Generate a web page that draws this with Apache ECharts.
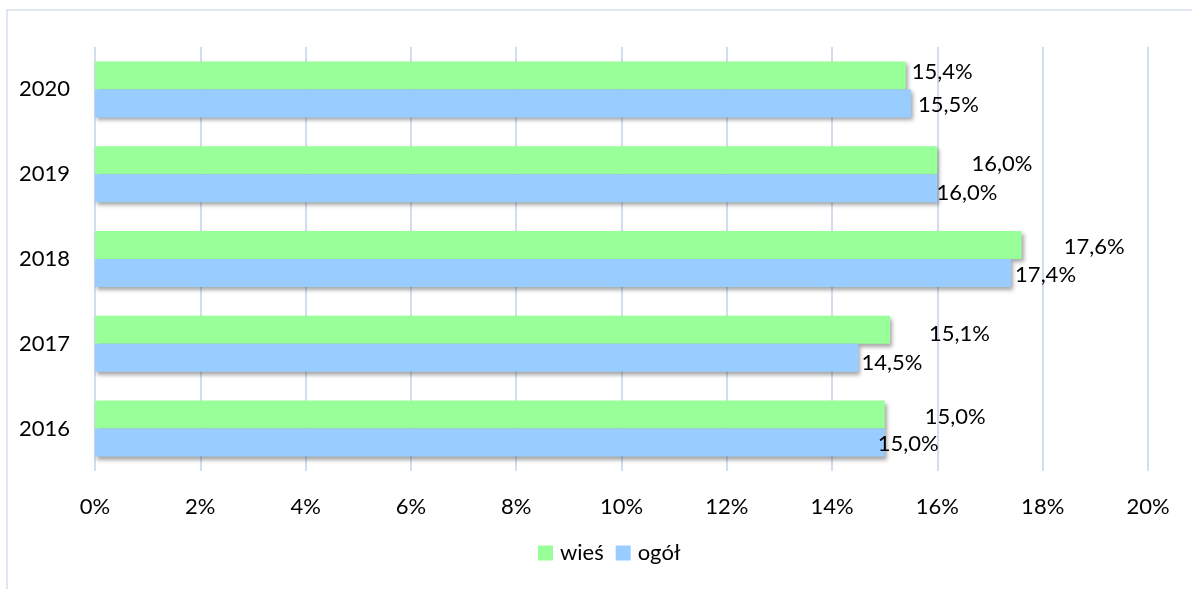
<!DOCTYPE html>
<html lang="pl">
<head>
    <meta charset="utf-8" />
    <script src="https://cdn.jsdelivr.net/npm/echarts@6/dist/echarts.min.js"></script>
    <style>
        html, body { margin: 0; padding: 0; background: #fff; }
        #view1 { width: 1192px; height: 589px; }
    </style>
</head>
<body>

<div id="view1"></div>

<script>
    var years = ["2016", "2017", "2018", "2019", "2020"];
    var wies = [15.0, 15.1, 17.6, 16.0, 15.4];
    var ogol = [15.0, 14.5, 17.4, 16.0, 15.5];
    var xTicks = [0, 2, 4, 6, 8, 10, 12, 14, 16, 18, 20];

    // label shifts as placed by hand in the source chart
    var wiesLabelShift = [[37, 2], [36, 4], [39, 2], [31, 4], [3, -3]];
    var ogolLabelShift = [[-10, 1], [0, 5], [1, 2], [-4, 5], [4, 2]];

    var FONT = "Lato";
    var FS = 22;

    function pct(v){ return v.toFixed(1).replace(".", ",") + "%"; }

    function barData(vals, shifts){
        return vals.map(function(v, i){
            return { value: v, label: { offset: shifts[i] } };
        });
    }

    window.onload = function(){
        var myChart = echarts.init(document.getElementById("view1"));

        var barShadow = {
            shadowColor: "rgba(0,0,0,0.35)",
            shadowBlur: 4,
            shadowOffsetX: 2,
            shadowOffsetY: 3
        };

        var option = {
            backgroundColor: "#fff",
            animation: false,
            textStyle: { fontFamily: FONT },
            graphic: [{
                type: "polyline",
                shape: { points: [[7, 589], [7, 10], [1192, 10]] },
                style: { stroke: "#d5e0f0", lineWidth: 1.5, fill: null }
            }],
            legend: {
                bottom: 20,
                left: 533,
                itemWidth: 15,
                itemHeight: 15,
                itemGap: 12,
                icon: "rect",
                textStyle: { fontFamily: FONT, fontSize: FS, color: "#000", padding: [0, 0, 0, 2] },
                data: ["wieś", "ogół"]
            },
            grid: { left: 95, right: 44, top: 47, bottom: 118, containLabel: false },
            xAxis: {
                type: "value",
                min: xTicks[0],
                max: xTicks[xTicks.length - 1],
                interval: 2,
                axisLine: { show: false },
                axisTick: { show: false },
                axisLabel: {
                    margin: 25,
                    fontFamily: FONT,
                    fontSize: FS,
                    color: "#000",
                    formatter: function(v){ return v + "%"; }
                },
                splitLine: { lineStyle: { color: "#d2ddef", width: 2 } }
            },
            yAxis: {
                type: "category",
                data: years,
                axisLine: { show: false },
                axisTick: { show: false },
                axisLabel: { margin: 25, fontFamily: FONT, fontSize: FS, color: "#000" }
            },
            series: [{
                name: "wieś",
                type: "bar",
                barWidth: 28,
                barGap: "0%",
                itemStyle: Object.assign({ color: "#99ff99" }, barShadow),
                label: {
                    show: true, position: "right", distance: 3,
                    fontFamily: FONT, fontSize: FS, color: "#000",
                    formatter: function(p){ return pct(p.value); }
                },
                data: barData(wies, wiesLabelShift)
            }, {
                name: "ogół",
                type: "bar",
                barWidth: 28,
                barGap: "0%",
                itemStyle: Object.assign({ color: "#99ccff" }, barShadow),
                label: {
                    show: true, position: "right", distance: 3,
                    fontFamily: FONT, fontSize: FS, color: "#000",
                    formatter: function(p){ return pct(p.value); }
                },
                data: barData(ogol, ogolLabelShift)
            }]
        };

        myChart.setOption(option);
    };
</script>

</body>
</html>
